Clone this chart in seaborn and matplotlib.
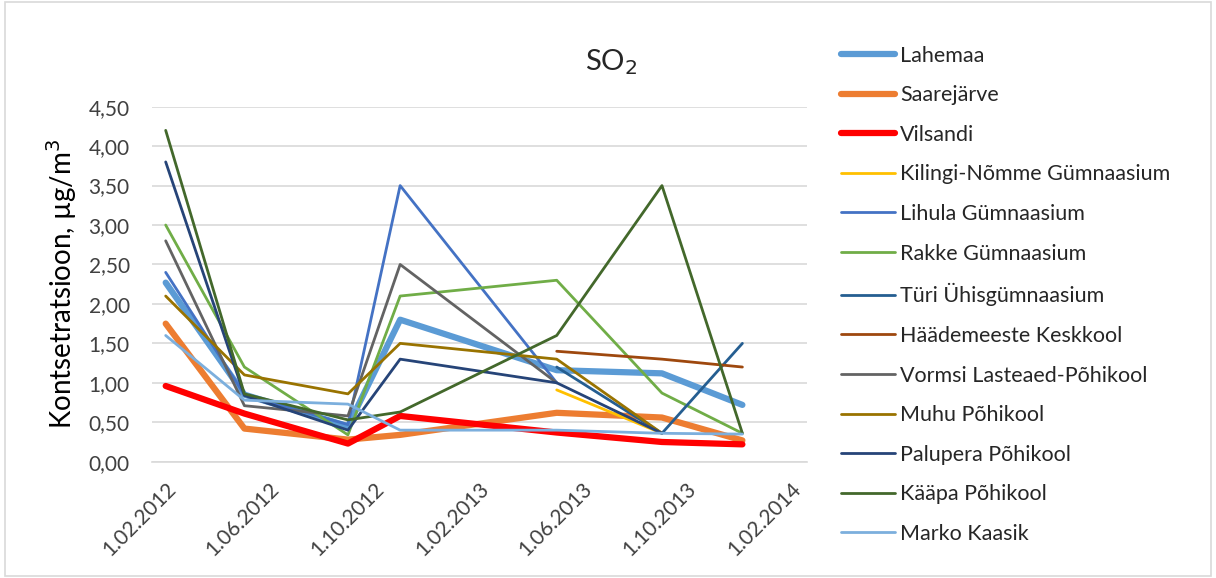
import pandas as pd
import numpy as np
import matplotlib
matplotlib.use('Agg')
import matplotlib.pyplot as plt
import matplotlib.dates as mdates
import seaborn as sns
from matplotlib.patches import Rectangle

# measurement dates
dates = pd.to_datetime(['2012-02-01', '2012-05-03', '2012-09-01', '2012-11-01',
                        '2013-05-03', '2013-09-03', '2013-12-06'])

nan = np.nan
lahemaa = [2.27, 0.85, 0.45, 1.80, 1.16, 1.12, 0.72]
saarejarve = [1.75, 0.42, 0.28, 0.34, 0.62, 0.56, 0.27]
vilsandi = [0.96, 0.61, 0.23, 0.58, 0.37, 0.25, 0.22]
kilingi = [nan, nan, nan, nan, 0.91, 0.36, nan]
lihula = [2.40, 0.85, 0.47, 3.50, 1.00, nan, nan]
rakke = [3.00, 1.20, 0.34, 2.10, 2.30, 0.87, 0.36]
turi = [nan, nan, nan, nan, 1.20, 0.36, 1.50]
haademeeste = [nan, nan, nan, nan, 1.40, 1.30, 1.20]
vormsi = [2.80, 0.71, 0.58, 2.50, 1.00, nan, nan]
muhu = [2.10, 1.10, 0.86, 1.50, 1.30, 0.36, nan]
palupera = [3.80, 0.84, 0.40, 1.30, 1.00, 0.36, nan]
kaapa = [4.20, 0.86, 0.53, 0.63, 1.60, 3.50, 0.36]
marko = [1.60, 0.78, 0.73, 0.40, 0.40, 0.36, 0.35]

names = ['Lahemaa', 'Saarejärve', 'Vilsandi', 'Kilingi-Nõmme Gümnaasium',
         'Lihula Gümnaasium', 'Rakke Gümnaasium', 'Türi Ühisgümnaasium',
         'Häädemeeste Keskkool', 'Vormsi Lasteaed-Põhikool', 'Muhu Põhikool',
         'Palupera Põhikool', 'Kääpa Põhikool', 'Marko Kaasik']
series = [lahemaa, saarejarve, vilsandi, kilingi, lihula, rakke, turi,
          haademeeste, vormsi, muhu, palupera, kaapa, marko]
colors = ['#5B9BD5', '#ED7D31', '#FF0000', '#FFC000', '#4472C4', '#70AD47',
          '#255E91', '#9E480E', '#636363', '#997300', '#264478', '#43682B',
          '#7CAFDD']
widths = [4.5, 4.5, 4.5] + [2.0] * 10

sns.set_theme(style='white')
plt.rcParams['font.family'] = ['Lato', 'DejaVu Sans']

fig = plt.figure(figsize=(12.16, 5.78), dpi=100)
fig.patches.append(Rectangle((0.004, 0.004), 0.992, 0.992, transform=fig.transFigure,
                             fill=False, edgecolor='#D9D9D9', lw=1.2))
ax = fig.add_axes([0.125, 0.2012, 0.539, 0.6142])

for name, vals, col, lw in zip(names, series, colors, widths):
    df = pd.DataFrame({'date': dates, 'value': vals}).dropna()
    sns.lineplot(data=df, x='date', y='value', ax=ax, color=col, lw=lw,
                 label=name, solid_capstyle='round', solid_joinstyle='round')

ax.set_ylim(0, 4.5)
ax.set_yticks(np.arange(0, 4.51, 0.5))
ax.set_yticklabels([f'{v:.2f}'.replace('.', ',') for v in np.arange(0, 4.51, 0.5)])
ax.set_xlim(pd.Timestamp('2012-01-16'), pd.Timestamp('2014-02-20'))
ax.xaxis.set_major_locator(mdates.MonthLocator(bymonth=[2, 6, 10], bymonthday=1))
ax.xaxis.set_major_formatter(mdates.DateFormatter('%-d.%m.%Y'))
for lab in ax.get_xticklabels():
    lab.set_rotation(45)
    lab.set_ha('right')
    lab.set_rotation_mode('anchor')

ax.grid(axis='y', color='#D9D9D9', lw=1.2)
ax.grid(axis='x', visible=False)
for s in ['left', 'right', 'top']:
    ax.spines[s].set_visible(False)
ax.spines['bottom'].set_color('#D9D9D9')
ax.spines['bottom'].set_linewidth(1.2)
ax.tick_params(axis='both', length=0, labelsize=15, colors='#404040')
ax.tick_params(axis='y', pad=16)
ax.tick_params(axis='x', pad=12)
ax.set_xlabel('')
ax.set_ylabel('Kontsetratsioon, µg/m$^3$', fontsize=20, color='black', labelpad=7)
ax.set_title('SO$_2$', fontsize=21, pad=26, x=0.70)

ax.legend(loc='upper left', bbox_to_anchor=(0.6916, 0.921), bbox_transform=fig.transFigure,
          frameon=False, fontsize=15.5, handlelength=2.5, labelspacing=0.91,
          handletextpad=0.25, borderpad=0, borderaxespad=0)

fig.savefig('out.png', dpi=100)
